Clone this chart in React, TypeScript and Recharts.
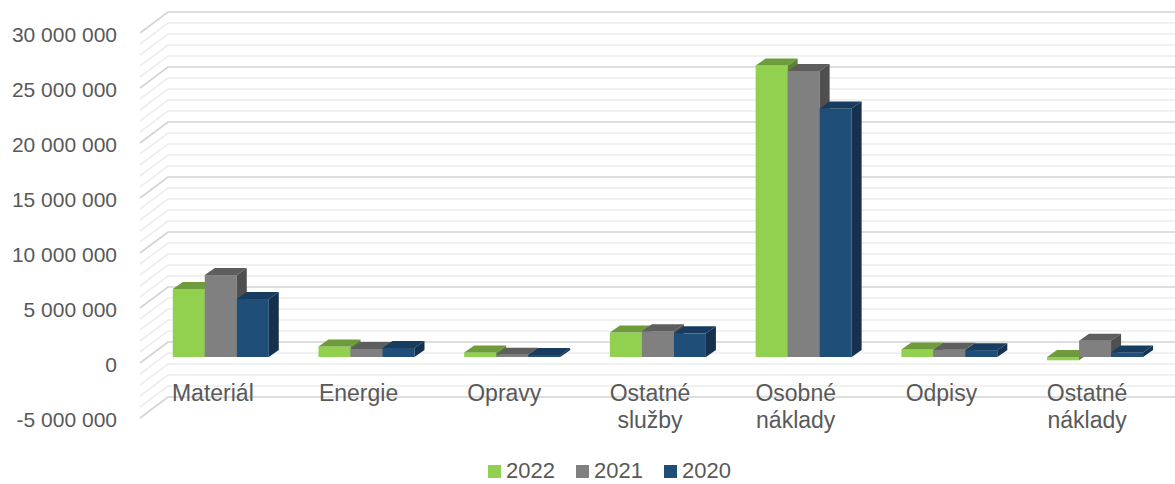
import React from 'react';
import { BarChart, Bar, XAxis, YAxis, CartesianGrid, Legend } from 'recharts';

// values
const categories = ['Materiál', 'Energie', 'Opravy', 'Ostatné služby', 'Osobné náklady', 'Odpisy', 'Ostatné náklady'];
const values2022 = [6180000, 960000, 420000, 2220000, 26500000, 680000, -300000];
const values2021 = [7450000, 730000, 210000, 2350000, 26000000, 660000, 1480000];
const values2020 = [5270000, 820000, 180000, 2150000, 22600000, 620000, 420000];
const yTicks = [-5000000, 0, 5000000, 10000000, 15000000, 20000000, 25000000, 30000000];
const legendOrder = ['2022', '2021', '2020'];
const minorStep = 1000000;

const data = categories.map((name, i) => ({
  name,
  y2022: values2022[i],
  y2021: values2021[i],
  y2020: values2020[i],
}));

const gridValues = Array.from({ length: 36 }, (_, i) => yTicks[0] + i * minorStep);

const W = 1175;
const H = 484;
const X_AXIS_H = 30;
const MARGIN = { top: 27, right: 7, bottom: 72 - X_AXIS_H, left: 0 };
const Y_AXIS_W = 148;
const PLOT_BOTTOM = H - 72;
const PX_PER_M = (PLOT_BOTTOM - MARGIN.top) / 35;

// depth offsets (3d look)
const FRONT = { dx: -8, dy: 6 };
const BACK = { dx: 20, dy: -15 };
const BAR_DX = 10;
const BAR_DY = 7;

const FONT = '"Liberation Sans", Arial, sans-serif';
const TEXT = '#595959';

const fmt = (v: number) => {
  const s = Math.abs(v).toString().replace(/\B(?=(\d{3})+(?!\d))/g, ' ');
  return v < 0 ? '-' + s : s;
};

const make3DBar = (top: string, side: string) => (props: any) => {
  const { x, y, width, height, fill } = props;
  if (x == null || y == null) return <g />;
  const h = Math.abs(height);
  const y0 = height < 0 ? y + height : y;
  return (
    <g>
      <rect x={x} y={y0} width={width} height={h} fill={fill} />
      <polygon
        points={`${x},${y0} ${x + BAR_DX},${y0 - BAR_DY} ${x + width + BAR_DX},${y0 - BAR_DY} ${x + width},${y0}`}
        fill={top}
      />
      <polygon
        points={`${x + width},${y0} ${x + width + BAR_DX},${y0 - BAR_DY} ${x + width + BAR_DX},${y0 + h - BAR_DY} ${x + width},${y0 + h}`}
        fill={side}
      />
    </g>
  );
};

const gridLine = (props: any) => {
  const { x1, y1, index } = props;
  const val = Math.round((PLOT_BOTTOM - y1) / PX_PER_M) - 5;
  const major = val % 5 === 0;
  const d = `M${x1 + FRONT.dx},${y1 + FRONT.dy} L${x1 + BACK.dx},${y1 + BACK.dy} L${W},${y1 + BACK.dy}`;
  return (
    <path
      key={`g-${index}-${y1}`}
      d={d}
      fill="none"
      stroke={major ? '#d3d3d3' : '#ededed'}
      strokeWidth={1.6}
    />
  );
};

const YTick = (props: any) => {
  const { x, y, payload } = props;
  if (!yTicks.includes(payload.value)) return <g />;
  return (
    <text x={x - 31} y={y + FRONT.dy + 1} textAnchor="end" dominantBaseline="central"
      fill={TEXT} fontSize={21} fontFamily={FONT}>
      {fmt(payload.value)}
    </text>
  );
};

const XTick = (props: any) => {
  const { x, y, payload } = props;
  const lines = String(payload.value).split(' ');
  return (
    <text x={x + FRONT.dx} y={y - 11} textAnchor="middle" fill={TEXT} fontSize={23} fontFamily={FONT}>
      {lines.map((l, i) => (
        <tspan key={i} x={x + FRONT.dx} dy={i === 0 ? 0 : 27}>{l}</tspan>
      ))}
    </text>
  );
};

const LegendContent = (props: any) => {
  const payload = [...(props.payload || [])].sort(
    (a: any, b: any) => legendOrder.indexOf(String(a.value)) - legendOrder.indexOf(String(b.value))
  );
  return (
    <div style={{ display: 'flex', justifyContent: 'center', paddingLeft: 44, fontFamily: FONT, height: 24 }}>
      {payload.map((entry: any, i: number) => (
        <div key={i} style={{ display: 'flex', alignItems: 'center', marginRight: i < payload.length - 1 ? 21 : 0 }}>
          <span style={{ width: 13, height: 13, background: entry.color, display: 'inline-block', marginRight: 5 }} />
          <span style={{ fontSize: 22, color: TEXT, lineHeight: '24px' }}>{entry.value}</span>
        </div>
      ))}
    </div>
  );
};

const App: React.FC = () => {
  return (
    <div style={{ position: 'absolute', left: 0, top: 0, width: W, height: H, background: '#fff' }}>
      <BarChart width={W} height={H} data={data} margin={MARGIN} barGap={0} barCategoryGap="17%">
        <CartesianGrid vertical={false} horizontal={gridLine} />
        <XAxis dataKey="name" height={X_AXIS_H} axisLine={false} tickLine={false} tickSize={0} tickMargin={0}
          interval={0} tick={<XTick />} />
        <YAxis width={Y_AXIS_W} domain={[yTicks[0], yTicks[yTicks.length - 1]]} ticks={gridValues} interval={0}
          axisLine={false} tickLine={false} tickSize={0} tickMargin={0} tick={<YTick />} />
        <Legend layout="horizontal" verticalAlign="middle" align="center" content={<LegendContent />}
          wrapperStyle={{ top: 459, left: 0, width: W, height: 24 }} />
        <Bar dataKey="y2022" name="2022" fill="#92d050" isAnimationActive={false}
          shape={make3DBar('#6e9c3c', '#5c8530')} />
        <Bar dataKey="y2021" name="2021" fill="#808080" isAnimationActive={false}
          shape={make3DBar('#5e5e5e', '#4f4f4f')} />
        <Bar dataKey="y2020" name="2020" fill="#1f4e79" isAnimationActive={false}
          shape={make3DBar('#173c5f', '#15314e')} />
      </BarChart>
    </div>
  );
};

export default App;
